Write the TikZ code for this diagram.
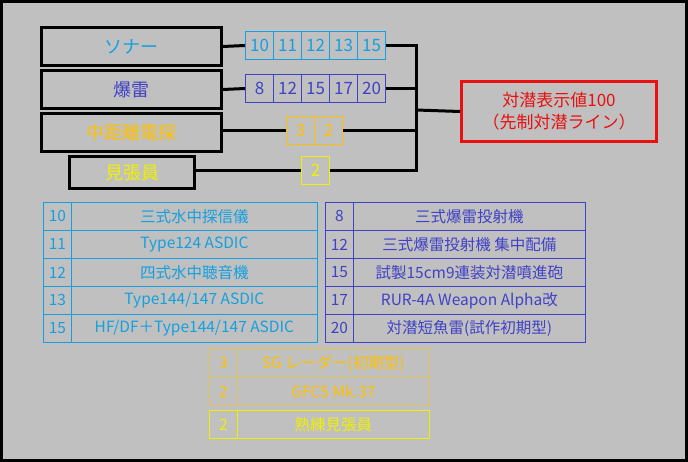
\documentclass[tikz,border=0pt]{standalone}
\usepackage{fontspec}
\setmainfont{Noto Sans CJK JP}
\begin{document}
\begin{tikzpicture}[x=1pt,y=-1pt,
  big/.style={draw=black,line width=3pt,inner sep=0,anchor=north west,minimum height=38pt,font=\fontsize{18}{18}\selectfont},
  cell/.style={line width=1pt,inner sep=0,anchor=north west,minimum width=28pt,minimum height=28pt,font=\fontsize{17}{17}\selectfont},
  tcell/.style={draw,line width=0.8pt,inner sep=0,anchor=north west,minimum height=28pt,font=\fontsize{15.5}{15.5}\selectfont},
  wire/.style={line width=3pt,black}]
\definecolor{bgc}{RGB}{192,192,192}
\definecolor{colS}{RGB}{20,160,224}
\definecolor{colD}{RGB}{64,64,200}
\definecolor{colR}{RGB}{255,192,0}
\definecolor{colL}{RGB}{240,240,0}
\definecolor{colRed}{RGB}{232,16,16}
\fill[black] (0,0) rectangle (688,462);
\fill[bgc] (3,3) rectangle (685,459);
\useasboundingbox (0,0) rectangle (688,462);
% main boxes
\node[big,minimum width=180pt,text=colS] (son) at (40,26) {ソナー};
\node[big,minimum width=180pt,text=colD] (dc) at (40,69) {爆雷};
\node[big,minimum width=180pt,text=colR] (rad) at (40,112) {中距離電探};
\node[big,minimum width=125pt,minimum height=32pt,text=colL] (look) at (68,155) {見張員};
% cells
\node[cell,draw=colS,text=colS] (s1) at (245,31) {10};
\node[cell,draw=colS,text=colS] (s2) at (273,31) {11};
\node[cell,draw=colS,text=colS] (s3) at (301,31) {12};
\node[cell,draw=colS,text=colS] (s4) at (329,31) {13};
\node[cell,draw=colS,text=colS] (s5) at (357,31) {15};
\node[cell,draw=colD,text=colD] (d1) at (245,74) {8};
\node[cell,draw=colD,text=colD] (d2) at (273,74) {12};
\node[cell,draw=colD,text=colD] (d3) at (301,74) {15};
\node[cell,draw=colD,text=colD] (d4) at (329,74) {17};
\node[cell,draw=colD,text=colD] (d5) at (357,74) {20};
\node[cell,draw=colR,text=colR] (r1) at (286,116) {3};
\node[cell,draw=colR,text=colR] (r2) at (314,116) {2};
\node[cell,draw=colL,text=colL] (l1) at (301,156) {2};
% red box
\node[draw=colRed,line width=3pt,anchor=north west,minimum width=195pt,minimum height=60pt,inner sep=0,text=colRed,align=center,font=\fontsize{17}{22}\selectfont] (res) at (460,80) {対潜表示値100\\（先制対潜ライン）};
\coordinate (j) at (416,110);
\draw[wire] (son.east) -- (s1.west);
\draw[wire] (dc.east) -- (d1.west);
\draw[wire] (r1.west -| rad.east) -- (r1.west);
\draw[wire] (l1.west -| look.east) -- (l1.west);
\draw[wire] (s5.east) -- (s5.east -| j);
\draw[wire] (d5.east) -- (d5.east -| j);
\draw[wire] (r2.east) -- (r2.east -| j);
\draw[wire] (l1.east) -- (l1.east -| j);
\draw[wire] ([yshift=1.5pt]s5.east -| j) -- ([yshift=-1.5pt]l1.east -| j);
\draw[wire] (j) -- (res.west);
% sonar table
\foreach \n/\t [count=\i] in {10/三式水中探信儀,11/Type124 ASDIC,12/四式水中聴音機,13/{Type144/147 ASDIC},15/{HF/DF＋Type144/147 ASDIC}}{
  \node[tcell,draw=colS,text=colS,minimum width=28pt] (sn\i) at (43,{202+(\i-1)*28}) {\n};
  \node[tcell,draw=colS,text=colS,minimum width=246pt] (st\i) at (71,{202+(\i-1)*28}) {\t};
}
\foreach \n/\t [count=\i] in {8/三式爆雷投射機,12/三式爆雷投射機 集中配備,15/試製15cm9連装対潜噴進砲,17/RUR-4A Weapon Alpha改,20/対潜短魚雷(試作初期型)}{
  \node[tcell,draw=colD,text=colD,minimum width=28pt] (dn\i) at (325,{202+(\i-1)*28}) {\n};
  \node[tcell,draw=colD,text=colD,minimum width=232pt] (dt\i) at (353,{202+(\i-1)*28}) {\t};
}
\node[tcell,draw=colR!50!bgc,text=colR,minimum width=28pt] (rn1) at (209,349) {3};
\node[tcell,draw=colR!50!bgc,text=colR,minimum width=192pt] (rt1) at (237,349) {SG レーダー(初期型)};
\node[tcell,draw=colR!50!bgc,text=colR,minimum width=28pt] (rn2) at (209,377) {2};
\node[tcell,draw=colR!50!bgc,text=colR,minimum width=192pt] (rt2) at (237,377) {GFCS Mk.37};
\node[tcell,draw=colL,text=colL,minimum width=28pt] (ln1) at (209,410) {2};
\node[tcell,draw=colL,text=colL,minimum width=192pt] (lt1) at (237,410) {熟練見張員};
\end{tikzpicture}
\end{document}
